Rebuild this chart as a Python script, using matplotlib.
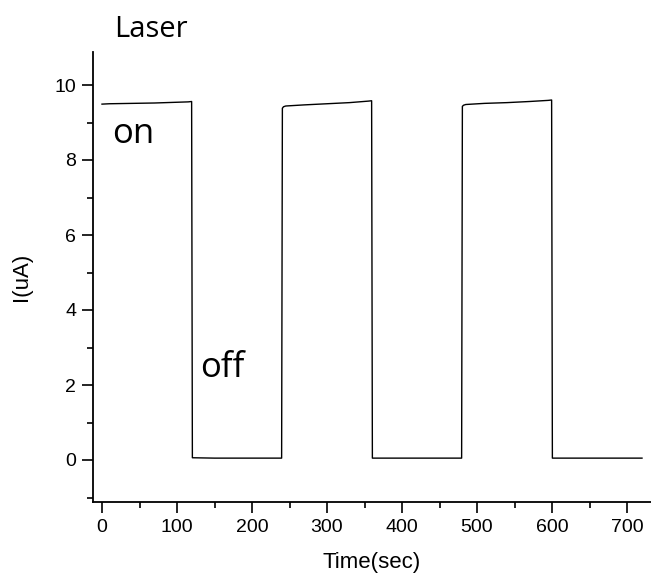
import matplotlib
matplotlib.use("Agg")
import matplotlib.pyplot as plt
from matplotlib.ticker import MultipleLocator

# Photocurrent under a laser switched on/off every 120 s
time_s = [0, 10, 40, 70, 100, 115, 119.5,
          120.5, 150, 190, 230, 239.5,
          240.5, 242, 245, 270, 300, 330, 355, 359.5,
          360.5, 400, 440, 479.5,
          480.5, 482, 485, 510, 540, 570, 595, 599.5,
          600.5, 640, 680, 720]
current_uA = [9.49, 9.50, 9.51, 9.52, 9.54, 9.55, 9.56,
              0.06, 0.05, 0.05, 0.05, 0.05,
              9.38, 9.42, 9.44, 9.47, 9.50, 9.53, 9.57, 9.58,
              0.05, 0.05, 0.05, 0.05,
              9.43, 9.46, 9.48, 9.51, 9.53, 9.56, 9.59, 9.60,
              0.05, 0.05, 0.05, 0.05]

x_major = [0, 100, 200, 300, 400, 500, 600, 700]
y_major = [0, 2, 4, 6, 8, 10]

fig = plt.figure(figsize=(6.51, 5.74), dpi=100)
ax = fig.add_axes([93 / 651, 1 - 502 / 574, 1 - 93 / 651, (502 - 52) / 574])

ax.plot(time_s, current_uA, color="black", lw=1.0)

ax.set_xlim(-12, 732)
ax.set_ylim(-1.12, 10.88)
ax.set_xticks(x_major)
ax.set_yticks(y_major)
ax.xaxis.set_minor_locator(MultipleLocator(50))
ax.yaxis.set_minor_locator(MultipleLocator(1))

for side in ("top", "right"):
    ax.spines[side].set_visible(False)
for side in ("left", "bottom"):
    ax.spines[side].set_linewidth(1.3)

tick_font = "Liberation Sans"
ax.tick_params(which="major", direction="out", length=8, width=1.2,
               labelsize=14, pad=4)
ax.tick_params(which="minor", direction="out", length=4, width=1.2)
for lab in ax.get_xticklabels() + ax.get_yticklabels():
    lab.set_fontfamily(tick_font)

ax.set_xlabel("Time(sec)", fontsize=16, fontfamily=tick_font, labelpad=12)
ax.set_ylabel("I(uA)", fontsize=16, fontfamily=tick_font, labelpad=16)

fig.text(114 / 651, 1 - 37 / 574, "Laser", fontsize=21, fontfamily="Open Sans",
         ha="left", va="baseline")
ax.text(14, 8.45, "on", fontsize=25, fontfamily="Open Sans",
        ha="left", va="baseline")
ax.text(131, 2.21, "off", fontsize=25, fontfamily="Open Sans",
        ha="left", va="baseline")

fig.savefig("out.png", dpi=100)
